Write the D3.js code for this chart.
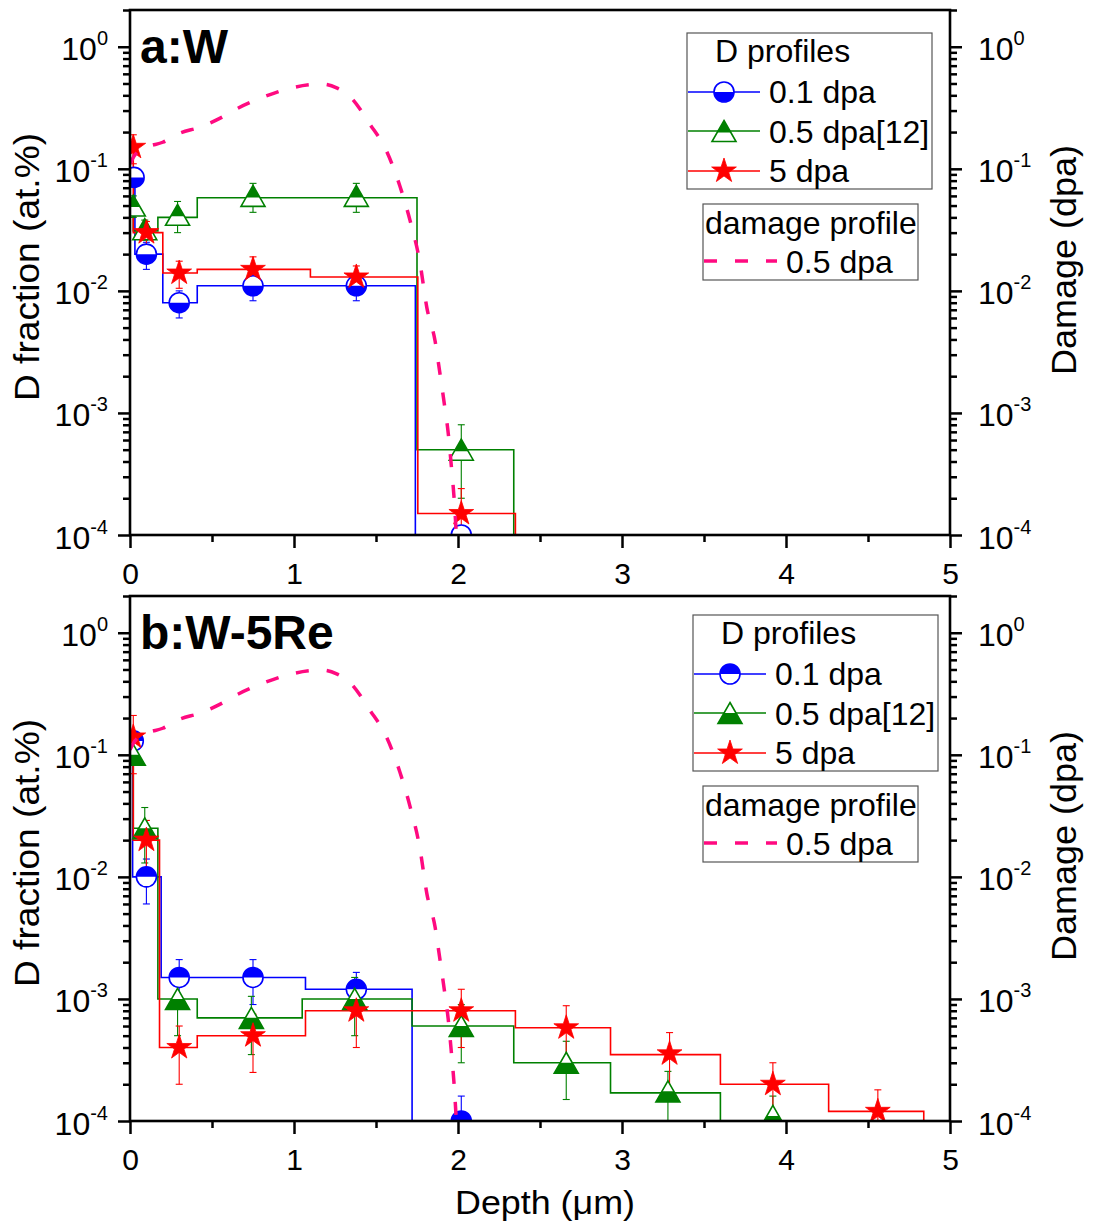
<!DOCTYPE html>
<html>
<head>
<meta charset="utf-8">
<script src="https://cdnjs.cloudflare.com/ajax/libs/d3/7.8.5/d3.min.js"></script>
<style>
  body { margin: 0; background: #fff; }
  svg text { font-family: "Liberation Sans", Arial, sans-serif; }
</style>
</head>
<body>
<svg id="chart" width="1093" height="1224"></svg>
<script>
// ---- values ----
const depthTicks = [0, 1, 2, 3, 4, 5]
const depthMinor = [0.5, 1.5, 2.5, 3.5, 4.5]
const decadeExps = [0, -1, -2, -3, -4]

// damage profile (0.5 dpa), same curve in both panels, right axis
const dmgDepth = [0, 0.03, 0.1, 0.2, 0.3, 0.43, 0.55, 0.65, 0.82, 1.0, 1.17, 1.26, 1.35, 1.46, 1.565, 1.646, 1.707, 1.768, 1.81, 1.86, 1.89, 1.92, 1.94, 1.96, 1.975, 1.99]
const dmgDpa = [0.11, 0.13, 0.15, 0.165, 0.195, 0.22, 0.26, 0.31, 0.39, 0.465, 0.495, 0.46, 0.38, 0.235, 0.139, 0.072, 0.038, 0.017, 0.0073, 0.0039, 0.0021, 0.0011, 0.00069, 0.00036, 0.00021, 0.0001]

// panel a: W -- step profiles (edges in um, levels in at.%)
const aBlueEdges = [0, 0.03, 0.2, 0.41, 1.74]
const aBlueLevels = [0.085, 0.02, 0.008, 0.011]
const aGreenEdges = [0, 0.02, 0.17, 0.41, 1.75, 2.34]
const aGreenLevels = [0.055, 0.031, 0.04, 0.058, 0.0005]
const aRedEdges = [0, 0.02, 0.2, 0.41, 1.1, 1.755, 2.35]
const aRedLevels = [0.15, 0.03, 0.014, 0.015, 0.013, 0.00015]
// panel a: measured points
const aBlueDepth = [0.025, 0.1, 0.3, 0.75, 1.38, 2.02]
const aBlueFrac = [0.085, 0.02, 0.008, 0.011, 0.011, 0.0001]
const aBlueErr = [0, 0.005, 0.002, 0.0027, 0.0027, 0]
const aGreenDepth = [0.02, 0.09, 0.29, 0.75, 1.38, 2.02]
const aGreenFrac = [0.05, 0.032, 0.042, 0.06, 0.06, 0.0005]
const aGreenErr = [0.01, 0.006, 0.012, 0.016, 0.016, 0.0003]
const aRedDepth = [0.02, 0.1, 0.3, 0.75, 1.38, 2.02]
const aRedFrac = [0.15, 0.03, 0.014, 0.015, 0.013, 0.00015]
const aRedErr = [0.04, 0.007, 0.0035, 0.004, 0.003, 0.00009]

// panel b: W-5Re -- step profiles
const bBlueEdges = [0, 0.016, 0.19, 1.07, 1.72]
const bBlueLevels = [0.13, 0.01, 0.0015, 0.0012]
const bGreenEdges = [0, 0.02, 0.17, 0.41, 1.05, 1.72, 2.34, 2.93, 3.6]
const bGreenLevels = [0.1, 0.025, 0.001, 0.0007, 0.001, 0.0006, 0.0003, 0.00017]
const bRedEdges = [0, 0.02, 0.18, 0.41, 1.07, 2.35, 2.93, 3.6, 4.26, 4.84]
const bRedLevels = [0.14, 0.02, 0.0004, 0.0005, 0.0008, 0.00058, 0.00035, 0.0002, 0.00012]
// panel b: measured points
const bBlueDepth = [0.02, 0.1, 0.3, 0.75, 1.38, 2.02]
const bBlueFrac = [0.13, 0.01, 0.0015, 0.0015, 0.0012, 0.0001]
const bBlueErr = [0.02, 0.004, 0.0006, 0.0006, 0.00045, 0.00006]
const bGreenDepth = [0.02, 0.09, 0.29, 0.74, 1.37, 2.02, 2.66, 3.28, 3.92]
const bGreenFrac = [0.1, 0.025, 0.001, 0.0007, 0.001, 0.0006, 0.0003, 0.000175, 0.00011]
const bGreenErr = [0.01, 0.012, 0.0005, 0.00035, 0.0005, 0.0003, 0.00015, 0.00008, 0.00005]
const bRedDepth = [0.02, 0.1, 0.3, 0.75, 1.38, 2.02, 2.66, 3.29, 3.92, 4.56]
const bRedFrac = [0.14, 0.02, 0.0004, 0.0005, 0.0008, 0.0008, 0.00058, 0.000355, 0.0002, 0.00012]
const bRedErr = [0.07, 0.009, 0.0002, 0.00025, 0.0004, 0.0004, 0.0003, 0.000175, 0.0001, 0.00006]

const seriesNames = ['0.1 dpa', '0.5 dpa[12]', '5 dpa']

// ---- drawing ----
const svg = d3.select('#chart')
const W = 820, H = 525
const FLOOR = 1e-4
const BLUE = '#0000ff', GREEN = '#008000', RED = '#ff0000', PINK = '#ff0a80'

const x = d3.scaleLinear().domain([0, 5]).range([0, W])
const y = d3.scaleLog().domain([1e-4, 2]).range([H, 0]) // left and right axes share it

const minorVals = []
decadeExps.forEach(e => {
    for (let k = 2; k <= 9; k++) {
        const v = k * 10 ** e
        if (v <= 2.0001) minorVals.push(v)
    }
})

function marker(sel, shape, color, half) {
    if (shape === 'star') {
        sel.append('path').attr('d', d3.symbol(d3.symbolStar, 190)())
            .attr('fill', color).attr('stroke', color).attr('stroke-width', 0.8)
        return
    }
    if (shape === 'circle') {
        const r = 10
        sel.append('circle').attr('r', r).attr('fill', '#fff')
        sel.append('path').attr('d', `M${-r},0A${r},${r} 0 0 ${half === 'top' ? 1 : 0} ${r},0Z`).attr('fill', color)
        sel.append('circle').attr('r', r).attr('fill', 'none').attr('stroke', color).attr('stroke-width', 1.6)
        return
    }
    // triangle, half filled (opposite half of the circle)
    const w = 24, h = 21
    const tri = `M0,${-h / 2}L${w / 2},${h / 2}L${-w / 2},${h / 2}Z`
    sel.append('path').attr('d', tri).attr('fill', '#fff')
    const cut = 1.5, cw = w / 4 + cut * w / (2 * h)
    const part = half === 'top'
        ? `M${-w / 4},0L${w / 4},0L${w / 2},${h / 2}L${-w / 2},${h / 2}Z`  // circle top -> triangle bottom
        : `M0,${-h / 2}L${cw},${cut}L${-cw},${cut}Z`
    sel.append('path').attr('d', part).attr('fill', color)
    sel.append('path').attr('d', tri).attr('fill', 'none').attr('stroke', color).attr('stroke-width', 1.6)
}

function drawPanel(cfg) {
    const g = svg.append('g').attr('transform', `translate(130,${cfg.top})`)
    svg.append('defs').append('clipPath').attr('id', cfg.id)
        .append('rect').attr('width', W).attr('height', H)
    const plot = g.append('g').attr('clip-path', `url(#${cfg.id})`)

    const step = d3.line().x(d => x(d[0])).y(d => y(d[1])).curve(d3.curveStepAfter)
    cfg.series.forEach(s => {
        const pts = s.edges.map((e, i) => [e, i < s.levels.length ? s.levels[i] : FLOOR])
        plot.append('path').attr('d', step(pts)).attr('fill', 'none')
            .attr('stroke', s.color).attr('stroke-width', 1.6)
    })

    // error bars
    cfg.series.forEach(s => {
        const eb = plot.append('g').attr('stroke', s.color).attr('stroke-width', 1.1)
        s.depth.forEach((d, i) => {
            const e = s.err[i]
            if (!e) return
            const cx = x(d)
            const hi = y(s.frac[i] + e)
            const lo = y(Math.max(s.frac[i] - e, 1e-5))
            eb.append('line').attr('x1', cx).attr('x2', cx).attr('y1', hi).attr('y2', lo)
            eb.append('line').attr('x1', cx - 3.5).attr('x2', cx + 3.5).attr('y1', hi).attr('y2', hi)
            eb.append('line').attr('x1', cx - 3.5).attr('x2', cx + 3.5).attr('y1', lo).attr('y2', lo)
        })
    })

    // markers
    cfg.series.forEach(s => {
        s.depth.forEach((d, i) => {
            const m = plot.append('g').attr('transform', `translate(${x(d)},${y(s.frac[i])})`)
            marker(m, s.shape, s.color, cfg.half)
        })
    })

    // damage profile on the right axis
    const dmg = d3.line().x(d => x(d[0])).y(d => y(d[1])).curve(d3.curveMonotoneX)
    plot.append('path').attr('d', dmg(d3.zip(dmgDepth, dmgDpa)))
        .attr('fill', 'none').attr('stroke', PINK).attr('stroke-width', 3.5)
        .attr('stroke-dasharray', '13,18')

    // frame
    g.append('rect').attr('width', W).attr('height', H)
        .attr('fill', 'none').attr('stroke', '#000').attr('stroke-width', 2.6)

    // x axis
    g.append('g').attr('transform', `translate(0,${H})`)
        .call(d3.axisBottom(x).tickValues(depthMinor).tickSize(7).tickFormat(''))
        .call(a => a.select('.domain').remove())
    g.append('g').attr('transform', `translate(0,${H})`)
        .call(d3.axisBottom(x).tickValues(depthTicks).tickSize(13).tickPadding(15).tickFormat(d3.format('d')))
        .call(a => a.select('.domain').remove())
        .call(a => a.selectAll('text').attr('font-size', 30).attr('fill', '#000'))

    // y axes
    ;['left', 'right'].forEach(side => {
        const left = side === 'left'
        const mk = () => left ? d3.axisLeft(y) : d3.axisRight(y)
        const gx = left ? 0 : W
        g.append('g').attr('transform', `translate(${gx},0)`)
            .call(mk().tickValues(minorVals).tickSize(7).tickFormat(''))
            .call(a => a.select('.domain').remove())
        const maj = g.append('g').attr('transform', `translate(${gx},0)`)
            .call(mk().tickValues(decadeExps.map(e => 10 ** e)).tickSize(12).tickFormat(''))
            .call(a => a.select('.domain').remove())
        maj.selectAll('.tick text').remove()
        maj.selectAll('.tick').each(function (v) {
            const t = d3.select(this).append('text')
                .attr('x', left ? -22 : 28).attr('y', 13)
                .attr('text-anchor', left ? 'end' : 'start')
                .attr('fill', '#000').attr('font-size', 32)
            t.append('tspan').text('10')
            t.append('tspan').attr('font-size', 20).attr('dy', -15).text(Math.round(Math.log10(v)))
        })
    })
    g.selectAll('.tick line').attr('stroke', '#000').attr('stroke-width', 2.5)

    // panel label
    g.append('text').attr('x', 10).attr('y', 53).attr('font-size', 48).attr('font-weight', 'bold')
        .text(cfg.label)

    // axis titles
    svg.append('text').attr('transform', `translate(39,${cfg.top + 257}) rotate(-90)`)
        .attr('text-anchor', 'middle').attr('font-size', 35)
        .attr('textLength', 268).attr('lengthAdjust', 'spacingAndGlyphs')
        .text('D fraction (at.%)')
    svg.append('text').attr('transform', `translate(1076,${cfg.top + 250}) rotate(-90)`)
        .attr('text-anchor', 'middle').attr('font-size', 35)
        .attr('textLength', 230).attr('lengthAdjust', 'spacingAndGlyphs')
        .text('Damage (dpa)')

    // legend: D profiles
    const L = cfg.legend
    const lg = svg.append('g').attr('transform', `translate(${L.x},${L.y})`)
    lg.append('rect').attr('width', 245).attr('height', 156)
        .attr('fill', '#fff').attr('stroke', '#555').attr('stroke-width', 1.2)
    lg.append('text').attr('x', 28).attr('y', 29).attr('font-size', 32).text('D profiles')
    const rowY = [59, 98, 138], txtY = [70, 110, 149]
    cfg.series.forEach((s, i) => {
        lg.append('line').attr('x1', 1).attr('x2', 73).attr('y1', rowY[i]).attr('y2', rowY[i])
            .attr('stroke', s.color).attr('stroke-width', 1.4)
        marker(lg.append('g').attr('transform', `translate(37,${rowY[i]})`), s.shape, s.color, cfg.half)
        lg.append('text').attr('x', 82).attr('y', txtY[i]).attr('font-size', 32).text(seriesNames[i])
    })

    // legend: damage profile
    const dg = svg.append('g').attr('transform', `translate(703,${L.dy})`)
    dg.append('rect').attr('width', 215).attr('height', 76)
        .attr('fill', '#fff').attr('stroke', '#555').attr('stroke-width', 1.2)
    dg.append('text').attr('x', 2).attr('y', 30).attr('font-size', 32).text('damage profile')
    dg.append('line').attr('x1', 1).attr('x2', 74).attr('y1', 57).attr('y2', 57)
        .attr('stroke', PINK).attr('stroke-width', 3.5).attr('stroke-dasharray', '13,18')
    dg.append('text').attr('x', 83).attr('y', 69).attr('font-size', 32).text('0.5 dpa')
}

drawPanel({
    id: 'clipA', top: 10, label: 'a:W', half: 'bottom',
    legend: { x: 687, y: 33, dy: 204 },
    series: [
        { edges: aBlueEdges, levels: aBlueLevels, depth: aBlueDepth, frac: aBlueFrac, err: aBlueErr, color: BLUE, shape: 'circle' },
        { edges: aGreenEdges, levels: aGreenLevels, depth: aGreenDepth, frac: aGreenFrac, err: aGreenErr, color: GREEN, shape: 'triangle' },
        { edges: aRedEdges, levels: aRedLevels, depth: aRedDepth, frac: aRedFrac, err: aRedErr, color: RED, shape: 'star' },
    ],
})
drawPanel({
    id: 'clipB', top: 596, label: 'b:W-5Re', half: 'top',
    legend: { x: 693, y: 615, dy: 786 },
    series: [
        { edges: bBlueEdges, levels: bBlueLevels, depth: bBlueDepth, frac: bBlueFrac, err: bBlueErr, color: BLUE, shape: 'circle' },
        { edges: bGreenEdges, levels: bGreenLevels, depth: bGreenDepth, frac: bGreenFrac, err: bGreenErr, color: GREEN, shape: 'triangle' },
        { edges: bRedEdges, levels: bRedLevels, depth: bRedDepth, frac: bRedFrac, err: bRedErr, color: RED, shape: 'star' },
    ],
})

svg.append('text').attr('x', 545).attr('y', 1214).attr('text-anchor', 'middle')
    .attr('font-size', 34).attr('textLength', 180).attr('lengthAdjust', 'spacingAndGlyphs')
    .text('Depth (μm)')
</script>
</body>
</html>
